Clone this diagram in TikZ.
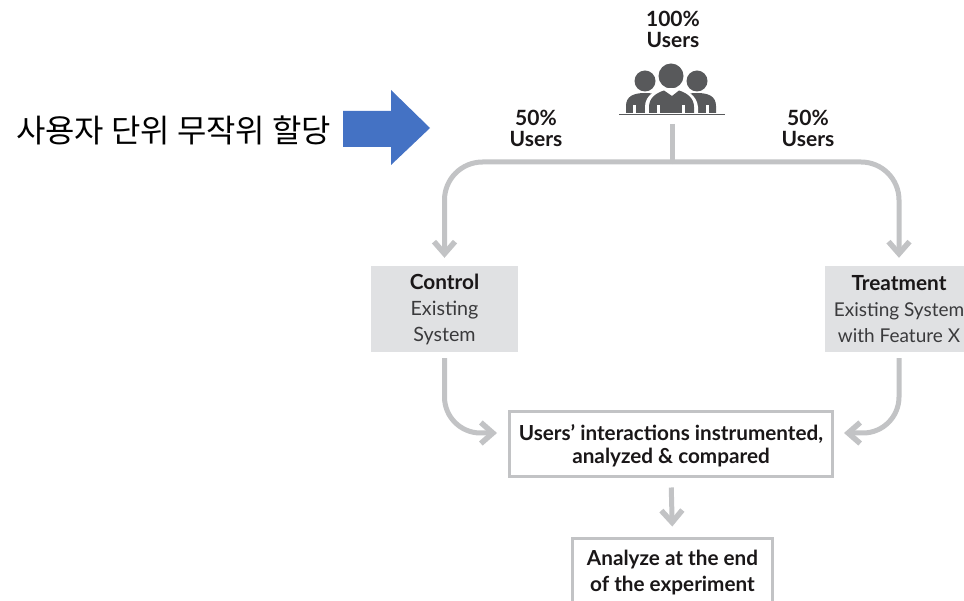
\documentclass[tikz,border=0pt]{standalone}
\usepackage{fontspec}
\setmainfont{Lato}
\newfontfamily\krfont{Noto Sans CJK KR}
\usetikzlibrary{arrows.meta}
\definecolor{linkgray}{HTML}{C2C3C5}
\definecolor{boxgray}{HTML}{E0E1E3}
\definecolor{icongray}{HTML}{58595B}
\definecolor{txt}{HTML}{1A1718}
\definecolor{txtlight}{HTML}{3A3A3C}
\definecolor{bluearrow}{HTML}{4472C4}
\tikzset{
  x=1pt,y=-1pt,
  link/.style={draw=linkgray,line width=5pt},
  linka/.style={link,-{Straight Barb[length=12pt,width=21pt,line width=5.5pt]}},
  fillbox/.style={fill=boxgray,draw=none,inner sep=0pt,align=center,text=txtlight,font=\fontsize{19.7}{26}\selectfont},
  framebox/.style={draw=linkgray,line width=3pt,fill=white,inner sep=0pt,align=center,text=txt,font=\fontsize{20.7}{23}\selectfont\bfseries},
  lab/.style={inner sep=0pt,align=center,text=txt,font=\fontsize{21}{21.5}\selectfont\bfseries},
  person/.style={fill=icongray,draw=none},
  notch/.style={fill=white,draw=none},
}
\begin{document}
\begin{tikzpicture}
\useasboundingbox (0,0) rectangle (964,601);
% nodes
\node[fillbox,minimum width=147pt,minimum height=86pt] (control) at (444.5,309) {\textbf{\textcolor{txt}{\fontsize{20.8}{26}\selectfont Control}}\\Existing\\System};
\node[fillbox,minimum width=148pt,minimum height=86pt,font=\fontsize{19}{26}\selectfont] (treat) at (899,309) {\textbf{\textcolor{txt}{\fontsize{20.8}{26}\selectfont Treatment}}\\Existing System\\with Feature X};
\node[framebox,minimum width=323pt,minimum height=64pt] (inter) at (671,444) {\rule{0pt}{20pt}Users’ interactions instrumented,\\analyzed \& compared};
\node[framebox,minimum width=200pt,minimum height=64pt,font=\fontsize{20.7}{26}\selectfont\bfseries] (end) at (672.5,570) {\rule{0pt}{20pt}Analyze at the end\\of the experiment};
\node[lab] (all) at (673,29.5) {100\%\\Users};
\node[lab] (left) at (536,128.5) {50\%\\Users};
\node[lab] (right) at (808,128.5) {50\%\\Users};
\node[inner sep=0pt,text=black,font=\krfont\fontsize{31.9}{36}\selectfont] (assign) at (173.5,130) {사용자 단위 무작위 할당};
% icon
\fill[person] (645,81) circle (10.5);
\fill[person] (697,81) circle (10.5);
\fill[person] (671,76) circle (12.5);
\fill[person] (626,113) -- (626,106) .. controls (626,96) and (634,93) .. (645,93)
  .. controls (652,93) and (655,94) .. (658,96) -- (658,113) -- cycle;
\fill[person] (716,113) -- (716,106) .. controls (716,96) and (708,93) .. (697,93)
  .. controls (690,93) and (687,94) .. (684,96) -- (684,113) -- cycle;
\fill[white] (645,113) -- (645,107) .. controls (645,95) and (656,88) .. (671,88)
  .. controls (686,88) and (697,95) .. (698,107) -- (698,113) -- cycle;
\fill[person] (649,113) -- (649,107) .. controls (649,98) and (656,93) .. (664,90.5)
  -- (672,96) -- (679,90.5) .. controls (687,93) and (694,98) .. (694,107) -- (694,113) -- cycle;
\foreach \nx in {634.5,658.5,683.5,707.5}{\fill[notch] (\nx-1.5,105) rectangle (\nx+1.5,113);}
\draw[icongray,line width=1.5pt] (619,114.5) -- (725,114.5);
% blue arrow
\fill[bluearrow] (343,111) -- (391,111) -- (391,90) -- (430,128) -- (391,165) -- (391,147) -- (343,147) -- cycle;
% connectors
\coordinate (stemtop) at (672,124);
\coordinate (split) at (672,162);
\coordinate (interL) at (inter.west |- 0,433);
\coordinate (interR) at (inter.east |- 0,433);
\draw[link] (stemtop) -- (split);
\draw[linka,rounded corners=38pt,shorten >=8pt] (split) -| (control.north);
\draw[linka,rounded corners=38pt,shorten >=8pt] (split) -| (treat.north);
\draw[linka,rounded corners=36pt,shorten <=6pt,shorten >=11pt] (control.south) |- (interL);
\draw[linka,rounded corners=36pt,shorten <=6pt,shorten >=10pt] (treat.south) |- (interR);
\draw[linka,shorten <=10pt,shorten >=10pt] (inter.south) -- (end.north);
\end{tikzpicture}
\end{document}
